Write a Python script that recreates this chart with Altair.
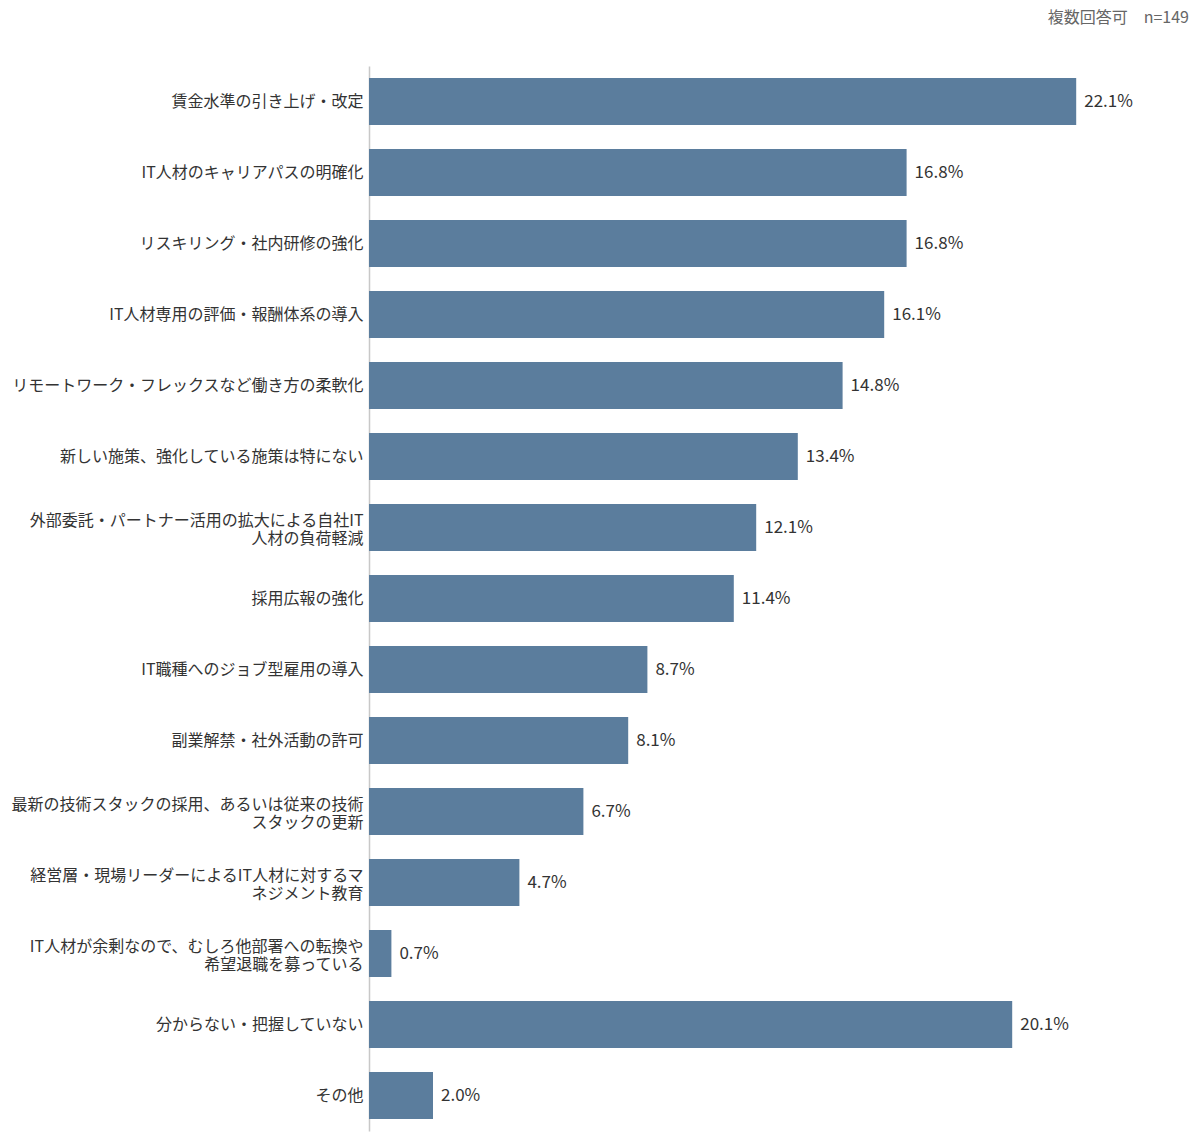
import altair as alt
import pandas as pd

# survey items (| marks a line break in the axis label)
items = [
    '賃金水準の引き上げ・改定',
    'IT人材のキャリアパスの明確化',
    'リスキリング・社内研修の強化',
    'IT人材専用の評価・報酬体系の導入',
    'リモートワーク・フレックスなど働き方の柔軟化',
    '新しい施策、強化している施策は特にない',
    '外部委託・パートナー活用の拡大による自社IT|人材の負荷軽減',
    '採用広報の強化',
    'IT職種へのジョブ型雇用の導入',
    '副業解禁・社外活動の許可',
    '最新の技術スタックの採用、あるいは従来の技術|スタックの更新',
    '経営層・現場リーダーによるIT人材に対するマ|ネジメント教育',
    'IT人材が余剰なので、むしろ他部署への転換や|希望退職を募っている',
    '分からない・把握していない',
    'その他',
]
shares = [22.1, 16.8, 16.8, 16.1, 14.8, 13.4, 12.1, 11.4, 8.7, 8.1, 6.7, 4.7, 0.7, 20.1, 2.0]
note = '複数回答可　n=149'

font = 'Noto Sans CJK JP'
bar_col = '#5b7d9d'

source = pd.DataFrame({'item': items, 'share': shares})

base = alt.Chart(source).encode(
    y=alt.Y('item:N', sort=items,
            scale=alt.Scale(paddingInner=0.34, paddingOuter=0.17),
            axis=alt.Axis(title=None, ticks=False, labelPadding=6,
                          labelFontSize=16, labelColor='#333333',
                          labelFont=font, labelLimit=400,
                          labelLineHeight=18,
                          labelExpr="split(datum.label, '|')",
                          # two-line labels are centred on the bar
                          labelOffset={'condition': {'test': "indexof(datum.value, '|') >= 0",
                                                     'value': -7},
                                       'value': 0},
                          domainColor='#c8c8c8', domainWidth=1.5)),
)

bars = base.mark_bar(color=bar_col).encode(
    x=alt.X('share:Q', scale=alt.Scale(domain=[0, 25]), axis=None),
)

values = base.transform_calculate(
    lbl=alt.expr.format(alt.datum.share, '.1f') + '%'
).mark_text(
    align='left', baseline='middle', dx=8, fontSize=17,
    font=font, color='#333333'
).encode(
    x=alt.X('share:Q', scale=alt.Scale(domain=[0, 25]), axis=None),
    text='lbl:N',
)

header = alt.Chart(pd.DataFrame({'t': [note]})).mark_text(
    align='right', baseline='middle', fontSize=16, font=font, color='#666666'
).encode(
    x=alt.value(820), y=alt.value(-48), text='t:N'
)

chart = alt.layer(bars, values, header).properties(
    width=800,
    height=1065,
    autosize=alt.AutoSizeParams(type='none'),
    padding={'left': 361, 'top': 58, 'right': 22, 'bottom': 8},
).configure_view(stroke=None)

chart.save("out.html", embed_options={"renderer": "svg", "actions": False})
